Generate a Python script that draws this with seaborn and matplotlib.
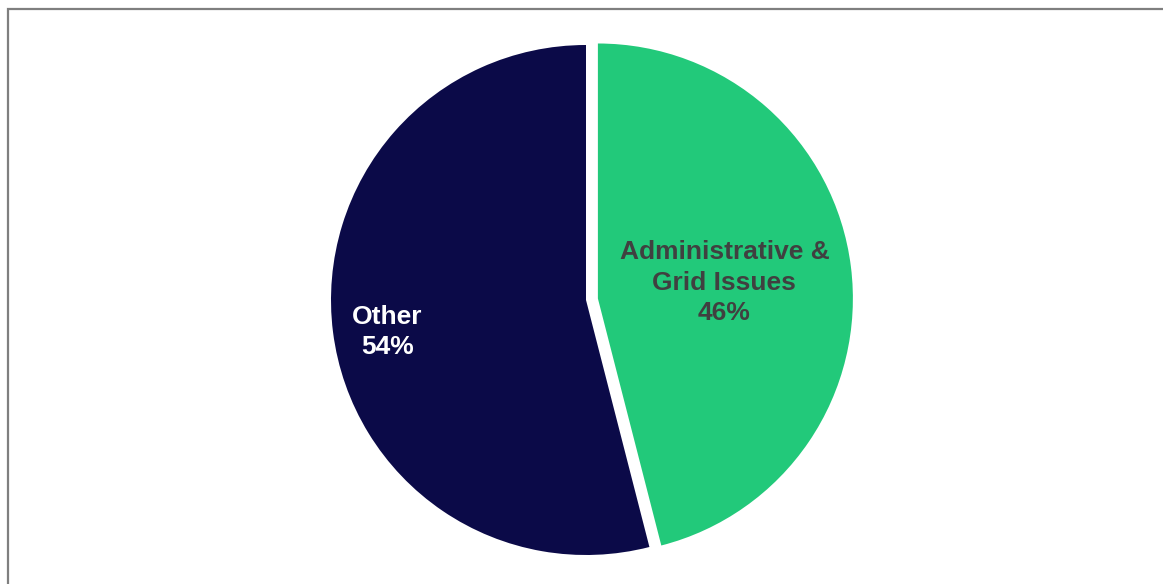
import numpy as np
import matplotlib
matplotlib.use("Agg")
import matplotlib.pyplot as plt
from matplotlib.patches import Rectangle
import seaborn as sns

# Share of causes
categories = ["Administrative &\nGrid Issues", "Other"]
shares = [46, 54]

sns.set_theme(style="white")
plt.rcParams["font.family"] = ["Liberation Sans", "DejaVu Sans"]

colors = ["#22C97A", "#0B0A48"]
text_colors = ["#404040", "#FFFFFF"]
explode = [0.047, 0.0]
label_dist = [0.5, 0.79]
label_turn = [0.0, 2.0]   # degrees of extra rotation for label anchor

W, H = 1163, 584
fig = plt.figure(figsize=(W / 100, H / 100), dpi=100)
fig.patch.set_facecolor("white")

# Frame around the chart area
fig.patches.append(Rectangle((7.5 / W, -0.05), 1.2, 1 - 8.5 / H + 0.05,
                             transform=fig.transFigure, fill=False,
                             edgecolor="#7F7F7F", linewidth=1.6, zorder=0))

# Pie axes: radius 1 corresponds to ~255 px, centre near (586, 300) px
r_px = 255
lim = 1.12
cx, cy = 586, 300
half = lim * r_px
ax = fig.add_axes([(cx - half) / W, (H - cy - half) / H, 2 * half / W, 2 * half / H])

wedges, _ = ax.pie(shares, colors=colors, startangle=90, counterclock=False,
                   explode=explode, radius=1.0,
                   wedgeprops=dict(linewidth=0))
ax.set_xlim(-lim, lim)
ax.set_ylim(-lim, lim)
ax.set_aspect("equal")
ax.axis("off")

for w, lab, val, tc, d, turn, ex in zip(wedges, categories, shares, text_colors,
                                        label_dist, label_turn, explode):
    mid = np.deg2rad((w.theta1 + w.theta2) / 2 + turn)
    x = np.cos(mid) * (d + ex)
    y = np.sin(mid) * (d + ex)
    ax.text(x, y, f"{lab}\n{val}%", ha="center", va="center", color=tc,
            fontsize=19, fontweight="bold", linespacing=1.32)

fig.savefig("out.png", dpi=100, facecolor="white")
